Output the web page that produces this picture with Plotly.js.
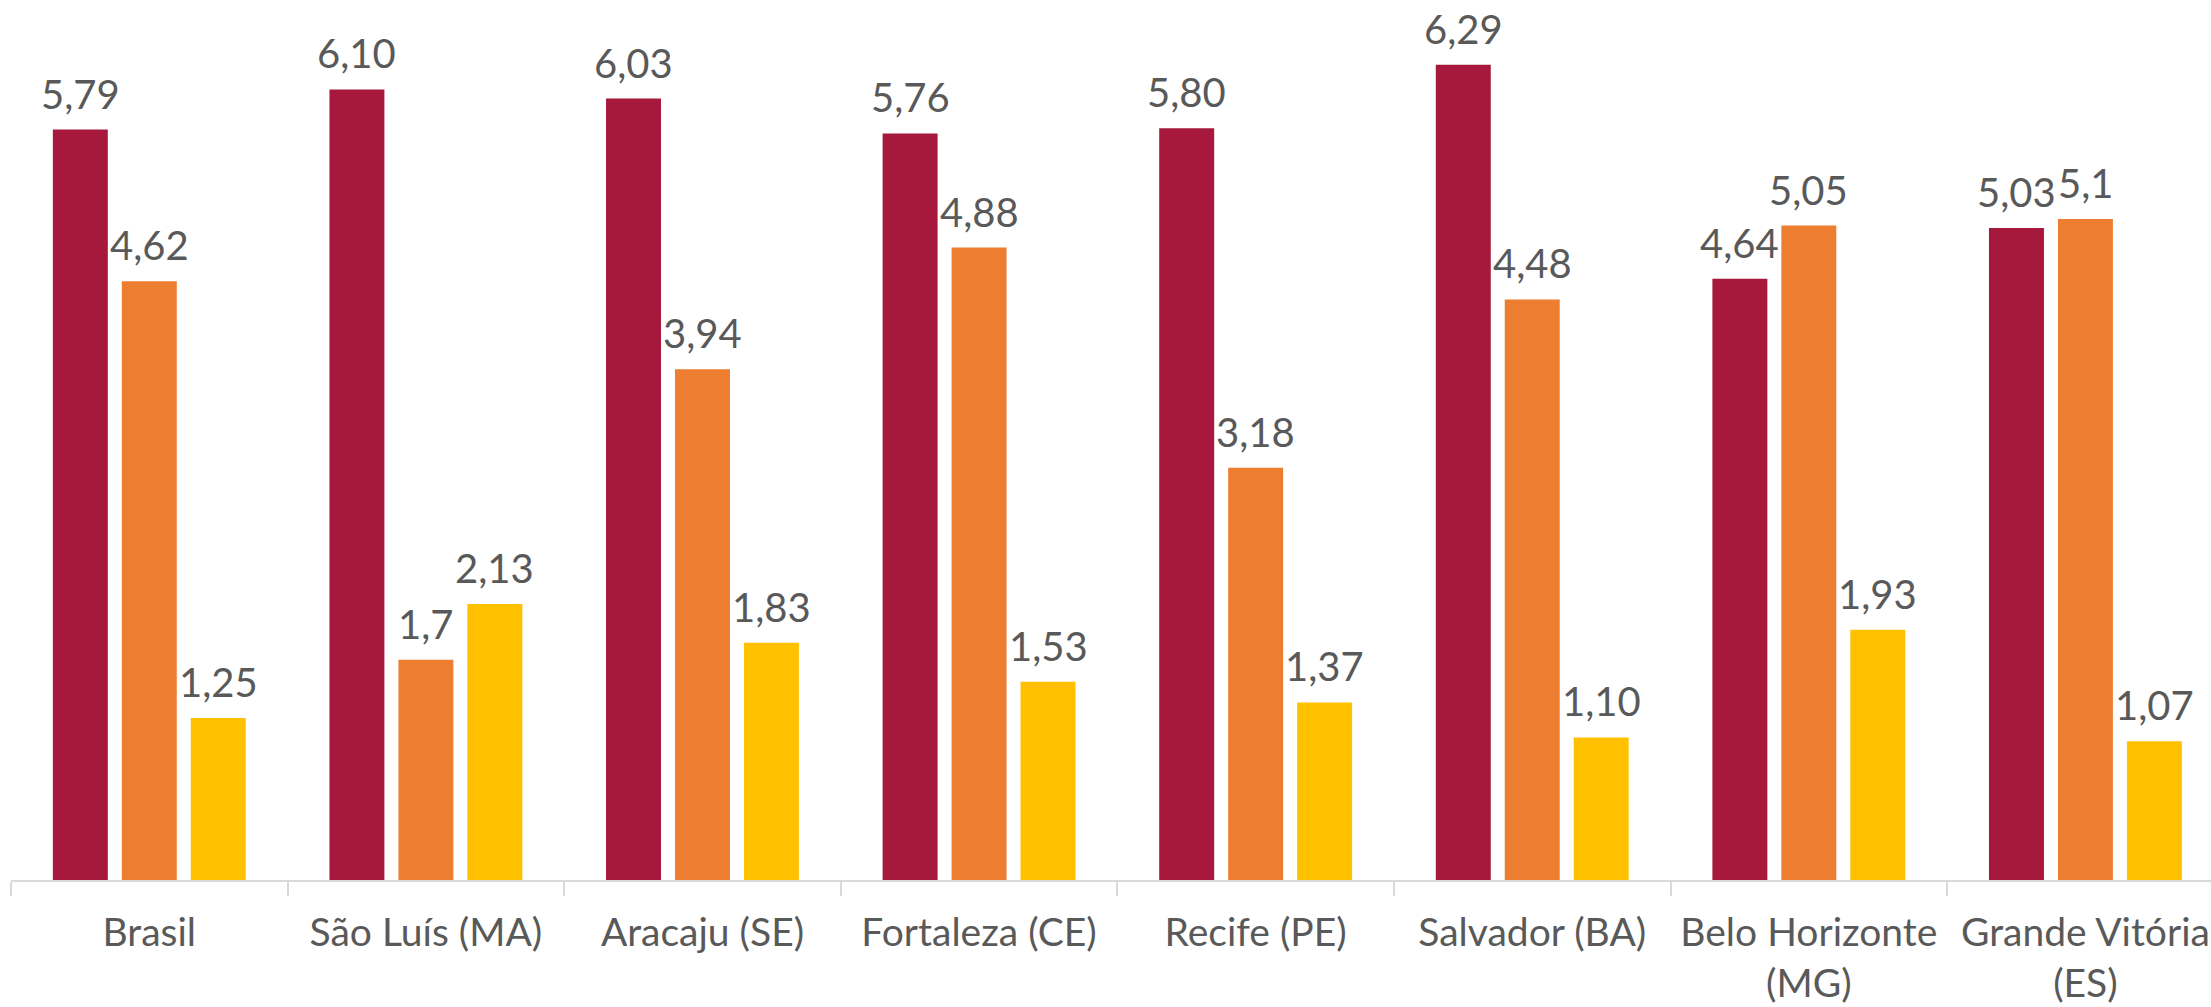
<!DOCTYPE html>
<html>
<head>
<meta charset="utf-8">
<script src="https://cdn.plot.ly/plotly-3.0.1.min.js"></script>
<style>html,body{margin:0;padding:0;background:#fff;overflow:hidden}</style>
</head>
<body>
<div id="chart" style="width:2211px;height:1007px"></div>
<script>
const categories = ["Brasil", "São Luís (MA)", "Aracaju (SE)", "Fortaleza (CE)", "Recife (PE)", "Salvador (BA)", "Belo Horizonte<br>(MG)", "Grande Vitória<br>(ES)"];
const series1 = [5.79, 6.10, 6.03, 5.76, 5.80, 6.29, 4.64, 5.03];
const series2 = [4.62, 1.7, 3.94, 4.88, 3.18, 4.48, 5.05, 5.1];
const series3 = [1.25, 2.13, 1.83, 1.53, 1.37, 1.10, 1.93, 1.07];
const labels1 = ["5,79", "6,10", "6,03", "5,76", "5,80", "6,29", "4,64", "5,03"];
const labels2 = ["4,62", "1,7", "3,94", "4,88", "3,18", "4,48", "5,05", "5,1"];
const labels3 = ["1,25", "2,13", "1,83", "1,53", "1,37", "1,10", "1,93", "1,07"];
const colors = ["#A6193C", "#ED7D31", "#FFC000"];

const FONT = "Lato, 'Open Sans', sans-serif";
const TXT = "#595959";
const FS = 40;
const SLOT_PX = 69; // horizontal distance between neighbouring bars within a group

const seriesVals = [series1, series2, series3];
const seriesLabels = [labels1, labels2, labels3];

const data = seriesVals.map((vals, i) => ({
  type: "bar",
  x: categories,
  y: vals,
  marker: {color: colors[i], line: {width: 0}},
  hoverinfo: "skip"
}));

const annotations = [];
seriesVals.forEach((vals, i) => {
  vals.forEach((v, j) => {
    annotations.push({
      x: categories[j], y: v, xref: "x", yref: "y",
      text: seriesLabels[i][j],
      showarrow: false,
      xanchor: "center", yanchor: "bottom",
      xshift: (i - 1) * SLOT_PX, yshift: 10,
      font: {family: FONT, size: FS, color: TXT}
    });
  });
});

const layout = {
  width: 2211, height: 1007,
  margin: {l: 11, r: 0, t: 0, b: 127, pad: 0},
  paper_bgcolor: "#fff", plot_bgcolor: "#fff",
  showlegend: false,
  barmode: "group",
  bargap: 0.252,
  bargroupgap: 0.203,
  font: {family: FONT, color: TXT},
  annotations: annotations,
  xaxis: {
    type: "category",
    range: [-0.5, 7.454],
    showline: true, linecolor: "#d9d9d9", linewidth: 2,
    ticks: "outside", tickson: "boundaries", ticklen: 14, tickcolor: "#d9d9d9", tickwidth: 2,
    ticklabelstandoff: 17,
    tickfont: {family: FONT, size: 39, color: TXT},
    showgrid: false, zeroline: false, fixedrange: true
  },
  yaxis: {
    range: [0, 6.79],
    visible: false, showgrid: false, zeroline: false, fixedrange: true
  }
};

Plotly.newPlot("chart", data, layout, {displayModeBar: false, staticPlot: true});
</script>
</body>
</html>
